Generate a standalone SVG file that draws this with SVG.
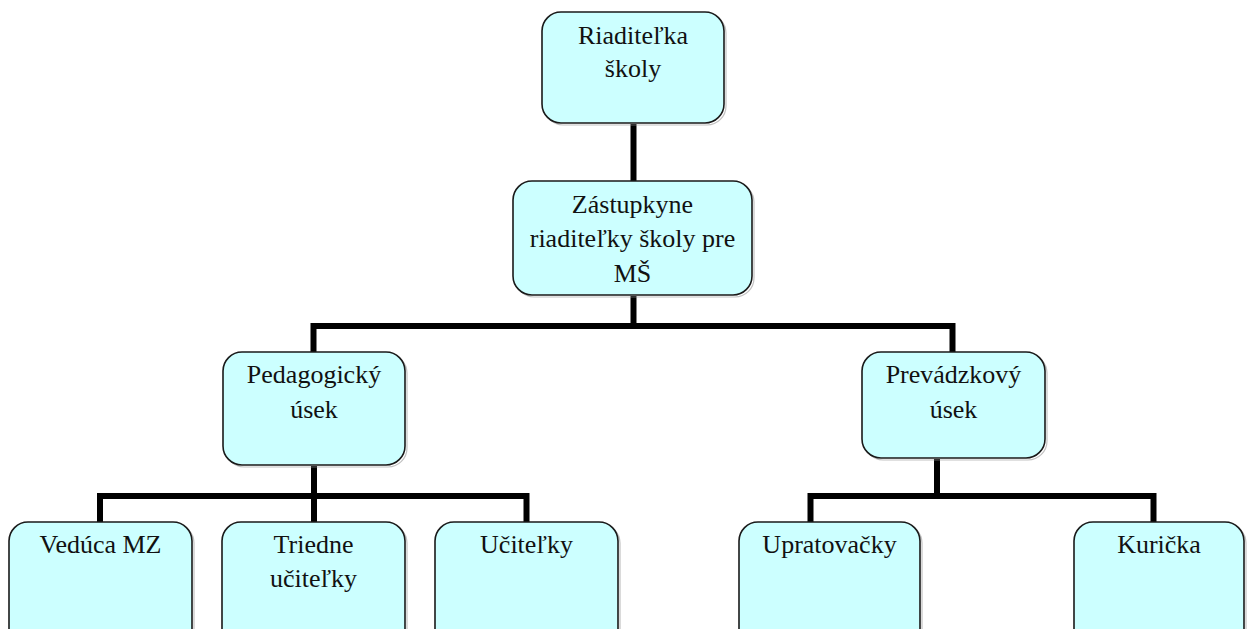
<svg xmlns="http://www.w3.org/2000/svg" width="1250" height="629" viewBox="0 0 1250 629">
  <defs>
    <style>
      .box { fill: #CCFFFF; stroke: #1a1a1a; stroke-width: 1.6; }
      .shadow { fill: none; stroke: #9a9a9a; stroke-width: 1.2; opacity: 0.6; }
      .label { font-family: "Liberation Serif", "Times New Roman", serif; font-size: 26px; fill: #111; text-anchor: middle; }
      .wire { fill: none; stroke: #000; stroke-width: 6; stroke-linejoin: miter; stroke-linecap: square; }
    </style>
  </defs>
  <rect width="1250" height="629" fill="#ffffff"/>

  <!-- connectors -->
  <g id="connectors">
    <line class="wire" x1="633.5" y1="124" x2="633.5" y2="181" style="stroke-linecap:butt"/>
    <line class="wire" x1="633.5" y1="296" x2="633.5" y2="326" style="stroke-linecap:butt"/>
    <polyline class="wire" points="313.5,352 313.5,326 952.5,326 952.5,352" style="stroke-linecap:butt"/>
    <line class="wire" x1="314" y1="466" x2="314" y2="522" style="stroke-linecap:butt"/>
    <polyline class="wire" points="100,522 100,496 526.5,496 526.5,522" style="stroke-linecap:butt"/>
    <line class="wire" x1="937" y1="459" x2="937" y2="496" style="stroke-linecap:butt"/>
    <polyline class="wire" points="810.5,522 810.5,496 1153.5,496 1153.5,522" style="stroke-linecap:butt"/>
  </g>

  <!-- top level -->
  <g id="node-riaditelka">
    <rect class="shadow" x="544" y="14" width="182" height="111" rx="19"/>
    <rect class="box" x="542" y="12" width="182" height="111" rx="19"/>
    <text class="label" x="633" y="44">Riaditeľka</text>
    <text class="label" x="633" y="77">školy</text>
  </g>

  <g id="node-zastupkyne">
    <rect class="shadow" x="515" y="183" width="239" height="114" rx="19"/>
    <rect class="box" x="513" y="181" width="239" height="114" rx="19"/>
    <text class="label" x="632.5" y="213">Zástupkyne</text>
    <text class="label" x="632.5" y="247">riaditeľky školy pre</text>
    <text class="label" x="632.5" y="282">MŠ</text>
  </g>

  <!-- sections -->
  <g id="node-pedagogicky">
    <rect class="shadow" x="225" y="354" width="182" height="113" rx="19"/>
    <rect class="box" x="223" y="352" width="182" height="113" rx="19"/>
    <text class="label" x="314" y="383">Pedagogický</text>
    <text class="label" x="314" y="418">úsek</text>
  </g>

  <g id="node-prevadzkovy">
    <rect class="shadow" x="864" y="354" width="183" height="106" rx="19"/>
    <rect class="box" x="862" y="352" width="183" height="106" rx="19"/>
    <text class="label" x="953.5" y="383">Prevádzkový</text>
    <text class="label" x="953.5" y="418">úsek</text>
  </g>

  <!-- staff -->
  <g id="node-veduca">
    <rect class="shadow" x="11" y="524" width="183" height="130" rx="19"/>
    <rect class="box" x="9" y="522" width="183" height="130" rx="19"/>
    <text class="label" x="100.5" y="553">Vedúca MZ</text>
  </g>

  <g id="node-triedne">
    <rect class="shadow" x="224" y="524" width="183" height="130" rx="19"/>
    <rect class="box" x="222" y="522" width="183" height="130" rx="19"/>
    <text class="label" x="313.5" y="553">Triedne</text>
    <text class="label" x="313.5" y="587">učiteľky</text>
  </g>

  <g id="node-ucitelky">
    <rect class="shadow" x="437" y="524" width="183" height="130" rx="19"/>
    <rect class="box" x="435" y="522" width="183" height="130" rx="19"/>
    <text class="label" x="526.5" y="553">Učiteľky</text>
  </g>

  <g id="node-upratovacky">
    <rect class="shadow" x="741" y="524" width="181" height="130" rx="19"/>
    <rect class="box" x="739" y="522" width="181" height="130" rx="19"/>
    <text class="label" x="829.5" y="553">Upratovačky</text>
  </g>

  <g id="node-kuricka">
    <rect class="shadow" x="1076" y="524" width="170" height="130" rx="19"/>
    <rect class="box" x="1074" y="522" width="170" height="130" rx="19"/>
    <text class="label" x="1159" y="553">Kurička</text>
  </g>
</svg>
